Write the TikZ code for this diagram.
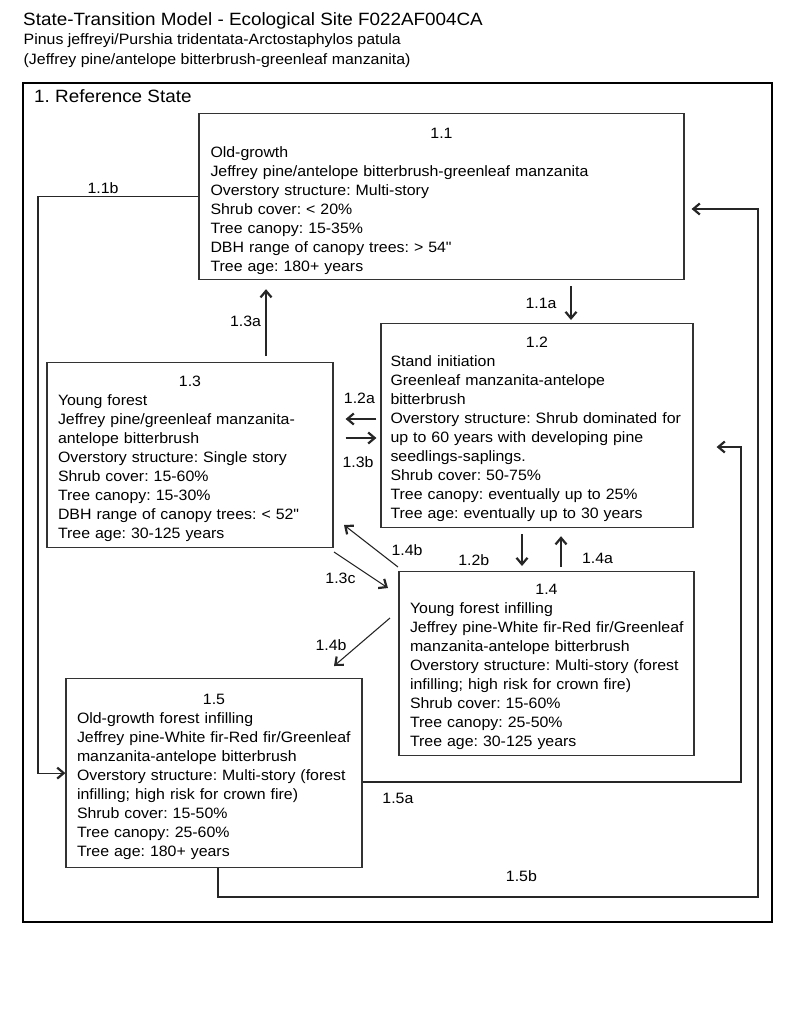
\documentclass[tikz,border=0pt]{standalone}
\usepackage{fontspec}
\setmainfont[FakeStretch=1.06]{Liberation Sans}
\usetikzlibrary{arrows.meta}
\newcommand{\bx}[1]{\mbox{#1}}
\newcommand{\inch}{{\addfontfeature{Ligatures=TeXOff}"}}
\setlength{\parindent}{0pt}
\frenchspacing
\begin{document}
\begin{tikzpicture}[x=1pt,y=-1pt,
  every node/.style={inner sep=0pt, text=black},
  lab/.style={font=\fontsize{15pt}{19pt}\selectfont, anchor=center},
  head/.style={anchor=base west},
  statebox/.style={draw=black!80, line width=1.2pt, anchor=north, inner ysep=0pt, align=left, font=\fontsize{15pt}{19pt}\selectfont},
  arr/.style={draw=black!85, line width=1.1pt, -{Straight Barb[length=6.5pt,width=11pt,line width=2.2pt]}}
]
\useasboundingbox (0,0) rectangle (800,1028);

% titles
\node[head, font=\fontsize{17.8pt}{21pt}\selectfont] (title) at (23,25) {State-Transition Model - Ecological Site F022AF004CA};
\node[head, font=\fontsize{15pt}{19pt}\selectfont] (sub1) at (23.5,44.3) {Pinus jeffreyi/Purshia tridentata-Arctostaphylos patula};
\node[head, font=\fontsize{15pt}{19pt}\selectfont] (sub2) at (23.5,64) {(Jeffrey pine/antelope bitterbrush-greenleaf manzanita)};

% state frame
\node[draw=black, line width=2pt, minimum width=749pt, minimum height=839pt] (frame) at (397.5,502.5) {};
\node[head, font=\fontsize{17.8pt}{21pt}\selectfont] (refstate) at (34,102) {1. Reference State};

% community boxes
\node[statebox, inner xsep=11.5pt, text width=462pt] (b11) at (441.5,113) {\rule{0pt}{24.7pt}\makebox[\linewidth]{1.1}\\
\bx{Old-growth}\\
\bx{Jeffrey pine/antelope bitterbrush-greenleaf manzanita}\\
\bx{Overstory structure: Multi-story}\\
\bx{Shrub cover: < 20\%}\\
\bx{Tree canopy: 15-35\%}\\
\bx{DBH range of canopy trees: > 54\inch}\\
\bx{Tree age: 180+ years}\rule[-8.3pt]{0pt}{8.3pt}};

\node[statebox, inner xsep=9.5pt, text width=293pt] (b12) at (537,323) {\rule{0pt}{23.7pt}\makebox[\linewidth]{1.2}\\
\bx{Stand initiation}\\
\bx{Greenleaf manzanita-antelope}\\
\bx{bitterbrush}\\
\bx{Overstory structure: Shrub dominated for}\\
\bx{up to 60 years with developing pine}\\
\bx{seedlings-saplings.}\\
\bx{Shrub cover: 50-75\%}\\
\bx{Tree canopy: eventually up to 25\%}\\
\bx{Tree age: eventually up to 30 years}\rule[-9.3pt]{0pt}{9.3pt}};

\node[statebox, inner xsep=11pt, text width=264pt] (b13) at (190,362) {\rule{0pt}{23.7pt}\makebox[\linewidth]{1.3}\\
\bx{Young forest}\\
\bx{Jeffrey pine/greenleaf manzanita-}\\
\bx{antelope bitterbrush}\\
\bx{Overstory structure: Single story}\\
\bx{Shrub cover: 15-60\%}\\
\bx{Tree canopy: 15-30\%}\\
\bx{DBH range of canopy trees: < 52\inch}\\
\bx{Tree age: 30-125 years}\rule[-9.3pt]{0pt}{9.3pt}};

\node[statebox, inner xsep=11pt, text width=273pt] (b14) at (546.5,571) {\rule{0pt}{23pt}\makebox[\linewidth]{1.4}\\
\bx{Young forest infilling}\\
\bx{Jeffrey pine-White fir-Red fir/Greenleaf}\\
\bx{manzanita-antelope bitterbrush}\\
\bx{Overstory structure: Multi-story (forest}\\
\bx{infilling; high risk for crown fire)}\\
\bx{Shrub cover: 15-60\%}\\
\bx{Tree canopy: 25-50\%}\\
\bx{Tree age: 30-125 years}\rule[-9pt]{0pt}{9pt}};

\node[statebox, inner xsep=11pt, text width=274pt] (b15) at (214,678) {\rule{0pt}{26pt}\makebox[\linewidth]{1.5}\\
\bx{Old-growth forest infilling}\\
\bx{Jeffrey pine-White fir-Red fir/Greenleaf}\\
\bx{manzanita-antelope bitterbrush}\\
\bx{Overstory structure: Multi-story (forest}\\
\bx{infilling; high risk for crown fire)}\\
\bx{Shrub cover: 15-50\%}\\
\bx{Tree canopy: 25-60\%}\\
\bx{Tree age: 180+ years}\rule[-11pt]{0pt}{11pt}};

% helper coordinates
\coordinate (k11b) at (38,500);
\coordinate (k11a) at (571,0);
\coordinate (k13a) at (266,0);
\coordinate (k12a) at (0,419);
\coordinate (k13b) at (0,438);
\coordinate (k12b) at (522,0);
\coordinate (k14a) at (561,0);
\coordinate (s14b) at (398,567);
\coordinate (e14b) at (344,525);
\coordinate (s13c) at (334,552);
\coordinate (e13c) at (388,588);
\coordinate (s14c) at (390,618);
\coordinate (e14c) at (334,666);
\coordinate (p5a) at (741,782);
\coordinate (q5a) at (741,447);
\coordinate (p5b) at (218,897);
\coordinate (q5b) at (758,897);
\coordinate (r5b) at (758,209);

% transitions
\draw[arr] (b11.west) -| (k11b) |- (b15.west);
\draw[arr, shorten <=6pt, shorten >=3pt] (b11.south -| k11a) -- (b12.north -| k11a);
\draw[arr, shorten <=6pt, shorten >=9pt] (b13.north -| k13a) -- (b11.south -| k13a);
\draw[arr, shorten <=4pt, shorten >=12pt] (b12.west |- k12a) -- (b13.east |- k12a);
\draw[arr, shorten <=12pt, shorten >=4pt] (b13.east |- k13b) -- (b12.west |- k13b);
\draw[arr, shorten <=6pt, shorten >=5pt] (b12.south -| k12b) -- (b14.north -| k12b);
\draw[arr, shorten <=4pt, shorten >=8pt] (b14.north -| k14a) -- (b12.south -| k14a);
\draw[arr] (s14b) -- (e14b);
\draw[arr] (s13c) -- (e13c);
\draw[arr] (s14c) -- (e14c);
\draw[arr, shorten >=23pt] (b15.east |- p5a) -- (p5a) -- (q5a) -- (b12.east |- q5a);
\draw[arr, shorten >=7pt] (b15.south -| p5b) -- (p5b) -- (q5b) -- (r5b) -- (b11.east |- r5b);

% transition labels
\node[lab] (l11b) at (103,188.3) {1.1b};
\node[lab] (l11a) at (541,303) {1.1a};
\node[lab] (l13a) at (245.6,321.7) {1.3a};
\node[lab] (l12a) at (359.4,398) {1.2a};
\node[lab] (l13b) at (358,462) {1.3b};
\node[lab] (l14b) at (407,549.7) {1.4b};
\node[lab] (l12b) at (473.8,560.3) {1.2b};
\node[lab] (l14a) at (597.6,558.8) {1.4a};
\node[lab] (l13c) at (340.5,578.7) {1.3c};
\node[lab] (l14c) at (331,645) {1.4b};
\node[lab] (l15a) at (397.9,798) {1.5a};
\node[lab] (l15b) at (521.4,876) {1.5b};
\end{tikzpicture}
\end{document}
